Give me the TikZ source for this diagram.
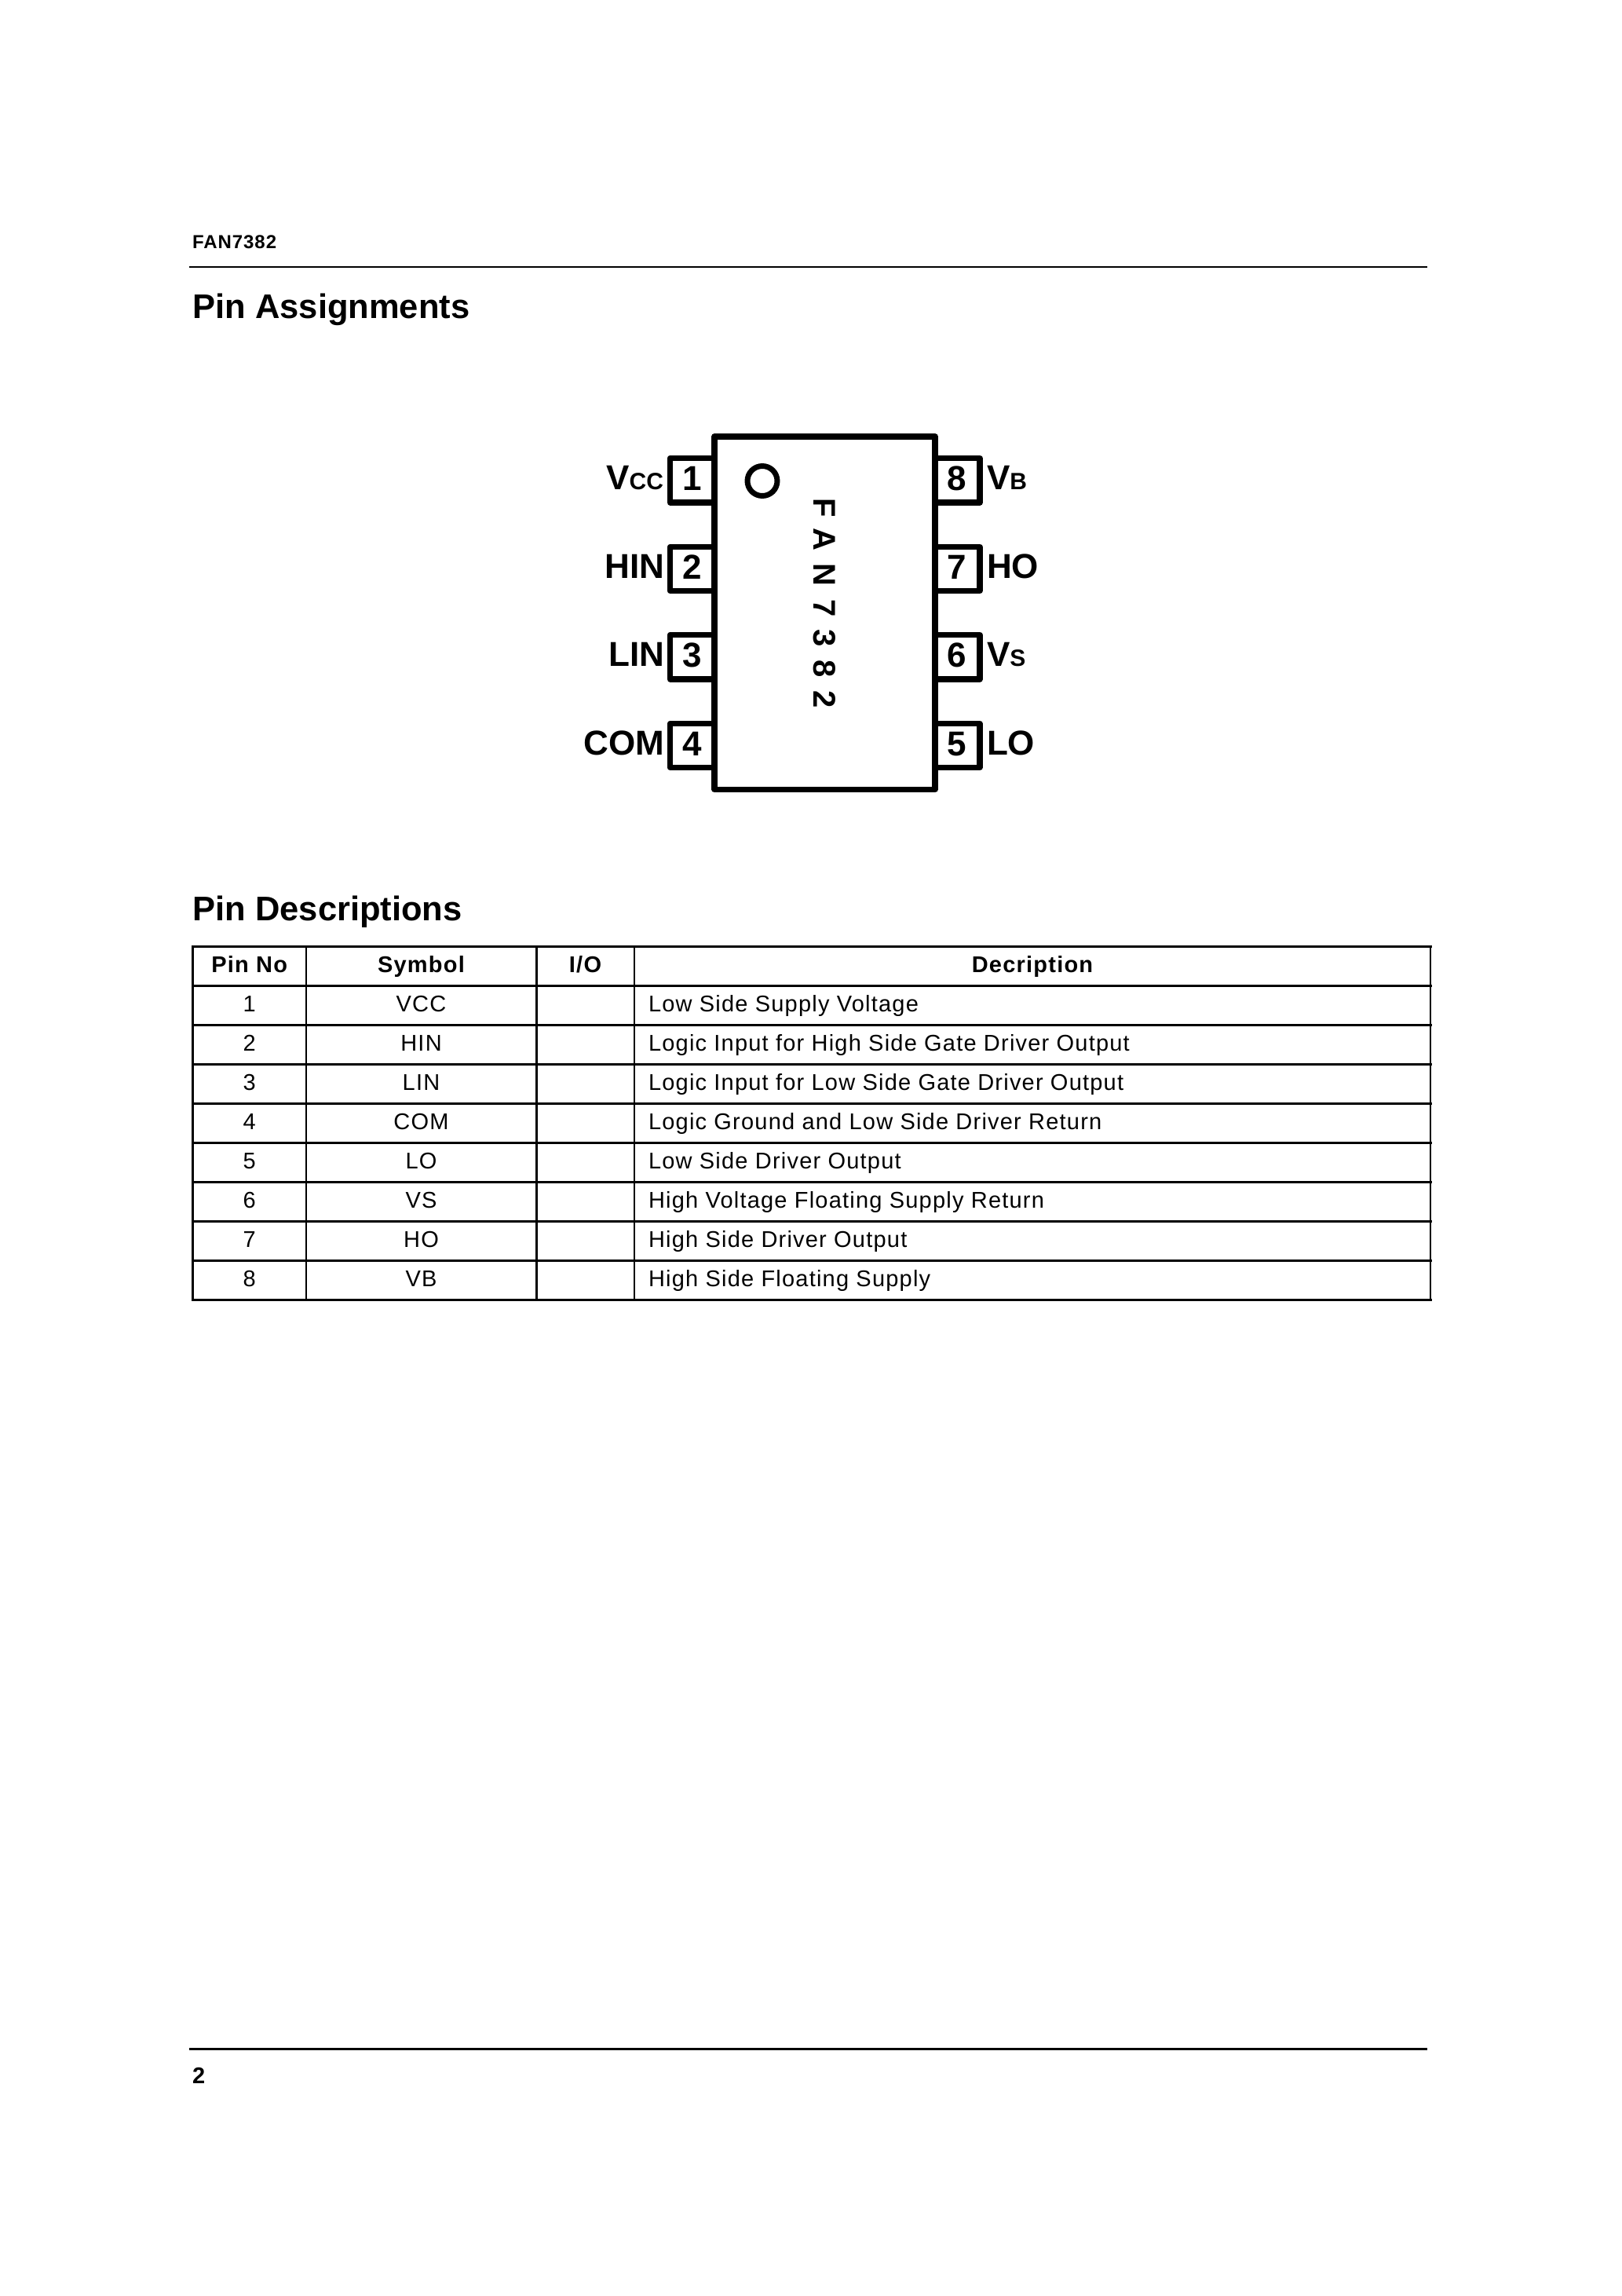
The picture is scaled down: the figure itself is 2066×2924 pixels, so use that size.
\documentclass[tikz,border=0pt]{standalone}
\usepackage{fontspec}
\setmainfont{Liberation Sans}
\newfontfamily\tabfont[LetterSpace=4.2]{Liberation Sans}
\newfontfamily\hdrfont[LetterSpace=4]{Liberation Sans}
\newfontfamily\chipfont[LetterSpace=41]{Liberation Sans}
\newcommand{\sz}[1]{\fontsize{\dimexpr #1\dimexpr 0.288pt\relax\relax}{\dimexpr #1\dimexpr 0.288pt\relax\relax}\selectfont}
\tikzset{
  txt/.style={inner sep=0pt,outer sep=0pt,anchor=base west},
  txtc/.style={inner sep=0pt,outer sep=0pt,anchor=base},
  txte/.style={inner sep=0pt,outer sep=0pt,anchor=base east},
  heading/.style={txt,font=\sz{43.5}\bfseries},
  pinlabel/.style={font=\sz{44}\bfseries},
  pinnum/.style={txtc,font=\sz{44}\bfseries},
  cell/.style={font=\tabfont\sz{29}},
  hcell/.style={txtc,font=\tabfont\sz{29}\bfseries},
  chipline/.style={line width=2.1pt,line join=round},
  tabline/.style={line width=0.75pt},
  tabthin/.style={line width=0.6pt},
  rulethin/.style={line width=0.65pt},
  rulethick/.style={line width=0.9pt}
}
\begin{document}
\begin{tikzpicture}[x=0.288pt,y=-0.288pt]
\useasboundingbox (0,0) rectangle (2066,2924);
\fill[white] (0,0) rectangle (2066,2924);
% page furniture
\node[txt,font=\hdrfont\sz{24}\bfseries] (doc) at (245,316.7) {FAN7382};
\coordinate (rtl) at (241,340); \coordinate (rtr) at (1818,340);
\draw[rulethin] (rtl) -- (rtr);
\node[heading] (h1) at (245.5,405) {Pin Assignments};
\node[heading] (h2) at (245.5,1172) {Pin Descriptions};
\coordinate (rbl) at (241,2609.3); \coordinate (rbr) at (1818,2609.3);
\draw[rulethick] (rbl) -- (rbr);
\node[txt,font=\sz{29}\bfseries] (pg) at (245,2653) {2};
% chip
\node[draw,chipline,minimum width=281*0.288pt,minimum height=449.5*0.288pt,inner sep=0pt,outer sep=0pt] (chip) at (1050.5,780.75) {};
\foreach \t/\b in {583.5/640,696.5/752.5,808.5/865,921.5/977.5}{
  \draw[chipline] (910,\t) -- (853.5,\t) -- (853.5,\b) -- (910,\b);
  \draw[chipline] (1191,\t) -- (1248,\t) -- (1248,\b) -- (1191,\b);
}
\node[draw,circle,line width=2.0pt,minimum size=38*0.288pt,inner sep=0pt] (dot) at (971,612.5) {};
\node[inner sep=0pt,outer sep=0pt,rotate=-90,anchor=base west,font=\chipfont\sz{40}\bfseries] (part) at (1036,634) {FAN7382};
% pin numbers
\node[pinnum] (n1) at (881.5,624.5) {1};
\node[pinnum] (n2) at (881.5,737) {2};
\node[pinnum] (n3) at (881.5,849.5) {3};
\node[pinnum] (n4) at (881.5,962) {4};
\node[pinnum] (n8) at (1219,624.5) {8};
\node[pinnum] (n7) at (1219,737) {7};
\node[pinnum] (n6) at (1219,849.5) {6};
\node[pinnum] (n5) at (1219,962) {5};
% pin labels
\node[txte,pinlabel] (l1) at (845,623) {V{\sz{30}CC}};
\node[txte,pinlabel] (l2) at (846,736) {HIN};
\node[txte,pinlabel] (l3) at (846,848.5) {LIN};
\node[txte,pinlabel] (l4) at (846,961) {COM};
\node[txt,pinlabel] (l8) at (1257,623) {V{\sz{30}B}};
\node[txt,pinlabel] (l7) at (1257,736) {HO};
\node[txt,pinlabel] (l6) at (1257,848) {V{\sz{30}S}};
\node[txt,pinlabel] (l5) at (1257,961) {LO};
% table
\foreach \i in {0,...,9}{
  \pgfmathsetmacro{\yy}{1205.5+50.02*\i}
  \draw[tabline] (244,\yy) -- (1823.5,\yy);
}
\draw[tabline] (245.5,1204.5) -- (245.5,1656.7);
\draw[tabline] (390,1204.5) -- (390,1656.7);
\draw[tabthin] (683.5,1204.5) -- (683.5,1656.7);
\draw[tabline] (808,1204.5) -- (808,1656.7);
\draw[tabline] (1822,1204.5) -- (1822,1656.7);
\node[hcell] (th1) at (317.75,1238) {Pin No};
\node[hcell] (th2) at (536.5,1238) {Symbol};
\node[hcell] (th3) at (745.5,1238) {I/O};
\node[hcell] (th4) at (1315,1238) {Decription};
\foreach \i/\s/\d in {
  1/VCC/Low Side Supply Voltage,
  2/HIN/Logic Input for High Side Gate Driver Output,
  3/LIN/Logic Input for Low Side Gate Driver Output,
  4/COM/Logic Ground and Low Side Driver Return,
  5/LO/Low Side Driver Output,
  6/VS/High Voltage Floating Supply Return,
  7/HO/High Side Driver Output,
  8/VB/High Side Floating Supply}{
  \pgfmathsetmacro{\yy}{1288+50.02*(\i-1)}
  \node[txtc,cell] (p\i) at (317.75,\yy) {\i};
  \node[txtc,cell] (s\i) at (536.5,\yy) {\s};
  \node[txt,cell] (d\i) at (826,\yy) {\d};
}
\end{tikzpicture}
\end{document}
